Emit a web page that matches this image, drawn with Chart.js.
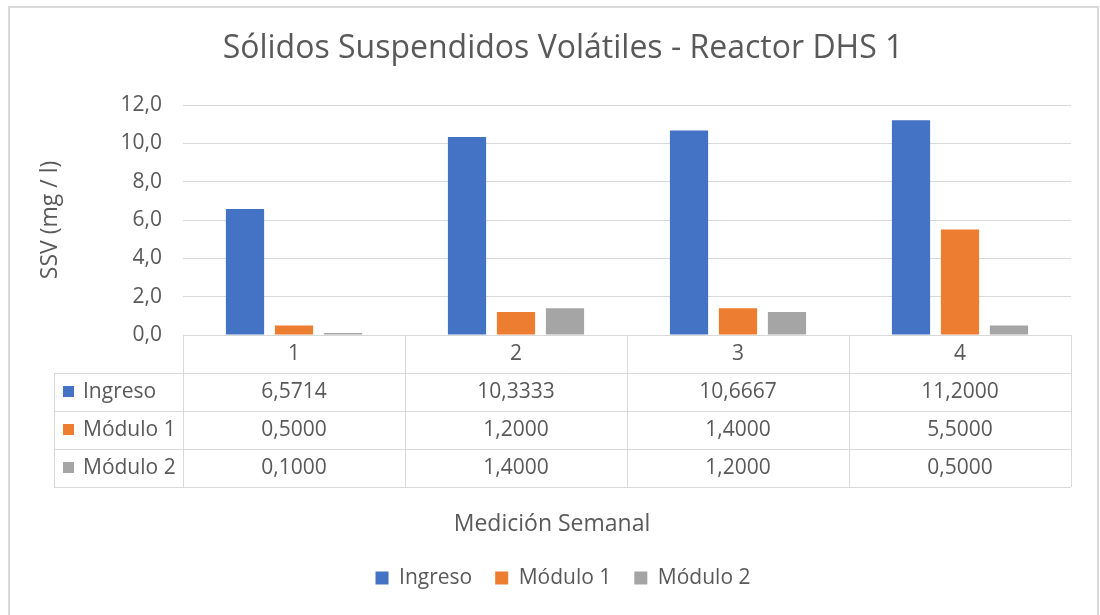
<!DOCTYPE html>
<html><head><meta charset="utf-8">
<script src="https://cdn.jsdelivr.net/npm/chart.js@4/dist/chart.umd.min.js"></script>
<style>html,body{margin:0;padding:0;background:#fff}#wrap{width:1100px;height:615px;position:relative}</style>
</head><body><div id="wrap"><canvas id="c" width="1100" height="615"></canvas></div>
<script>
const categories = ['1', '2', '3', '4'];
const ingreso = [6.5714, 10.3333, 10.6667, 11.2000];
const modulo1 = [0.5000, 1.2000, 1.4000, 5.5000];
const modulo2 = [0.1000, 1.4000, 1.2000, 0.5000];
const seriesNames = ['Ingreso', 'Módulo 1', 'Módulo 2'];
const seriesColors = ['#4472C4', '#ED7D31', '#A5A5A5'];
const yTickStep = 2;
const yMin = 0, yMax = 12;
const chartTitle = 'Sólidos Suspendidos Volátiles - Reactor DHS 1';
const yTitle = 'SSV (mg / l)';
const xTitle = 'Medición Semanal';

const TXT = '#595959';
const GRID = '#D9D9D9';
const FONT = '"Open Sans", sans-serif';
Chart.defaults.font.family = FONT;
Chart.defaults.color = TXT;

const fmt = (v, d) => v.toFixed(d).replace('.', ',');

const frame = {
  id: 'frame',
  beforeDraw(chart) {
    const ctx = chart.ctx;
    ctx.save();
    ctx.fillStyle = '#fff';
    ctx.fillRect(0, 0, chart.width, chart.height);
    ctx.strokeStyle = GRID;
    ctx.lineWidth = 2;
    ctx.strokeRect(9, 7, 1089, 620);
    ctx.restore();
  }
};

const dataTable = {
  id: 'dataTable',
  afterDraw(chart) {
    const {ctx, chartArea, scales: {x}} = chart;
    const top = chartArea.bottom;
    const rowH = 38;
    const left = 54;
    const right = chartArea.right;
    const n = chart.data.labels.length;
    const catW = x.getPixelForValue(1) - x.getPixelForValue(0);
    ctx.save();
    ctx.strokeStyle = GRID;
    ctx.lineWidth = 1;
    const line = (x1, y1, x2, y2) => { ctx.beginPath(); ctx.moveTo(x1, y1); ctx.lineTo(x2, y2); ctx.stroke(); };
    const rows = chart.data.datasets.length;
    line(chartArea.left, Math.round(top) + 0.5, right, Math.round(top) + 0.5);
    for (let r = 1; r <= rows + 1; r++) {
      const y = Math.round(top + r * rowH) + 0.5;
      line(left, y, right, y);
    }
    line(left + 0.5, top + rowH, left + 0.5, top + (rows + 1) * rowH);
    for (let i = 0; i <= n; i++) {
      const bx = Math.round(x.getPixelForValue(0) - catW / 2 + i * catW) + 0.5;
      line(bx, top, bx, top + (rows + 1) * rowH);
    }
    ctx.fillStyle = TXT;
    ctx.font = '21px ' + FONT;
    ctx.textBaseline = 'middle';
    ctx.textAlign = 'center';
    chart.data.labels.forEach((lab, i) => {
      ctx.fillText(lab, x.getPixelForValue(i), top + rowH / 2);
    });
    chart.data.datasets.forEach((ds, r) => {
      const cy = top + (r + 1) * rowH + rowH / 2;
      ds.data.forEach((v, i) => {
        ctx.fillStyle = TXT;
        ctx.textAlign = 'center';
        ctx.fillText(fmt(v, 4), x.getPixelForValue(i), cy);
      });
      ctx.fillStyle = ds.backgroundColor;
      ctx.fillRect(63, Math.round(cy - 6), 11, 11);
      ctx.fillStyle = TXT;
      ctx.textAlign = 'left';
      ctx.fillText(ds.label, 83, cy);
    });
    ctx.textAlign = 'center';
    ctx.font = '23px ' + FONT;
    ctx.fillText(xTitle, 552, 524);
    ctx.restore();
  }
};

new Chart(document.getElementById('c'), {
  type: 'bar',
  data: {
    labels: categories,
    datasets: [
      {label: seriesNames[0], data: ingreso, backgroundColor: seriesColors[0]},
      {label: seriesNames[1], data: modulo1, backgroundColor: seriesColors[1]},
      {label: seriesNames[2], data: modulo2, backgroundColor: seriesColors[2]}
    ]
  },
  options: {
    responsive: false,
    devicePixelRatio: 1,
    animation: false,
    categoryPercentage: 0.662,
    barPercentage: 0.78,
    layout: {padding: {left: 55, right: 29, top: 10, bottom: 16.5}},
    plugins: {
      title: {display: true, text: chartTitle, color: TXT, font: {size: 32, weight: 'normal'}, padding: {top: 20, bottom: 36.6}},
      legend: {position: 'bottom', labels: {boxWidth: 13, boxHeight: 13, padding: 23, color: TXT, font: {size: 21}}},
      tooltip: {enabled: false}
    },
    scales: {
      x: {
        ticks: {display: false},
        grid: {display: false},
        border: {display: false},
        afterFit(s) { s.height = 209.5; }
      },
      y: {
        min: yMin, max: yMax,
        ticks: {stepSize: yTickStep, padding: 21, color: TXT, font: {size: 21}, callback: v => fmt(v, 1)},
        grid: {color: GRID, drawTicks: false},
        border: {display: false},
        title: {display: true, text: yTitle, color: TXT, font: {size: 23}, padding: {top: -18.8, bottom: 0}},
        afterFit(s) { s.width = 128; }
      }
    }
  },
  plugins: [frame, dataTable]
});
</script></body></html>
